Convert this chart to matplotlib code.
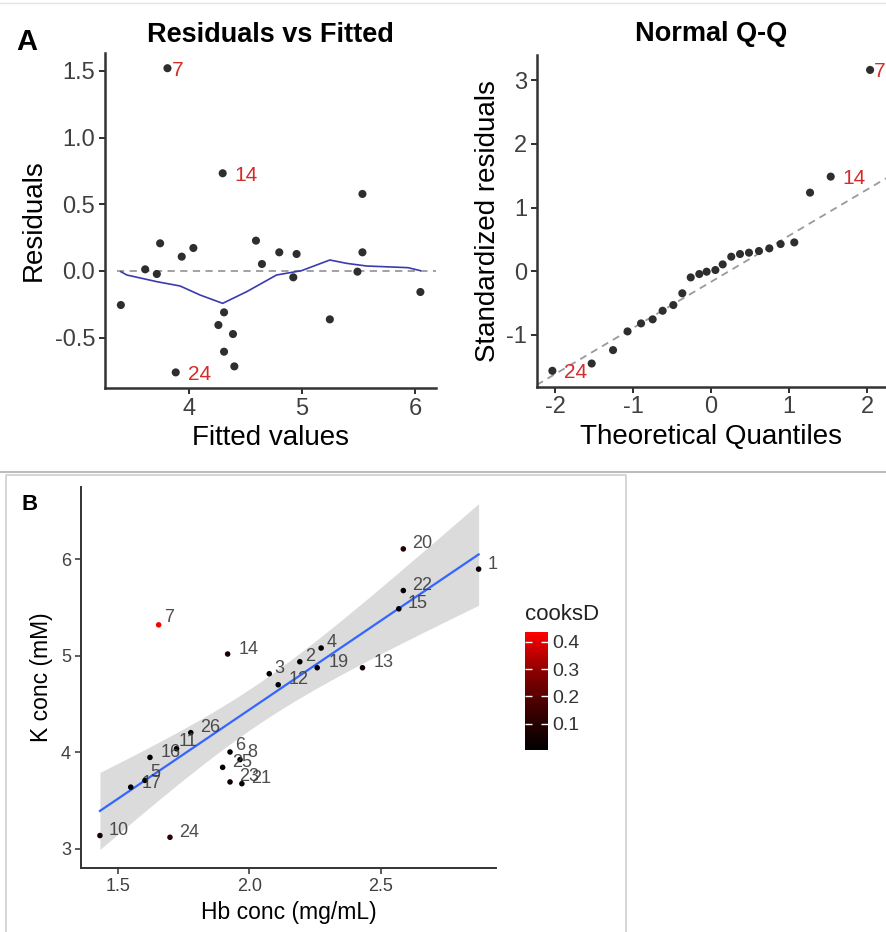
import numpy as np
import matplotlib
matplotlib.use("Agg")
import matplotlib.pyplot as plt
from matplotlib.colors import LinearSegmentedColormap, Normalize
from matplotlib.lines import Line2D
from matplotlib.colorbar import ColorbarBase

plt.rcParams["font.family"] = ["Liberation Sans", "DejaVu Sans"]
plt.rcParams["axes.unicode_minus"] = False

# ---------------------------------------------------------------- data
# panel A left: residuals vs fitted
fitted = [3.40, 3.615, 3.718, 3.747, 3.812, 3.885, 3.938, 4.041, 4.262, 4.30,
          4.312, 4.312, 4.391, 4.403, 4.594, 4.647, 4.80, 4.924, 4.953, 5.247,
          5.491, 5.535, 5.535, 6.047]
resid = [-0.255, 0.0125, -0.0225, 0.2075, 1.52, -0.76, 0.1075, 0.1725, -0.405,
         0.7325, -0.31, -0.605, -0.4725, -0.715, 0.2275, 0.0525, 0.14, -0.0475,
         0.1275, -0.3625, -0.005, 0.14, 0.5775, -0.1575]
resid_outliers = {4: "7", 5: "24", 9: "14"}

# smoother drawn through the residuals
smooth_x = [3.40, 3.453, 3.718, 3.924, 4.10, 4.30, 4.512, 4.776, 4.997, 5.247,
            5.394, 5.571, 5.938, 6.047]
smooth_y = [-0.005, -0.03, -0.08, -0.1125, -0.18, -0.2425, -0.155, -0.03,
            0.0025, 0.0825, 0.0575, 0.0375, 0.025, 0.0025]

# panel A right: normal Q-Q
theo_q = [-2.034, -1.53, -1.256, -1.07, -0.897, -0.748, -0.62, -0.483, -0.368,
          -0.26, -0.15, -0.056, 0.056, 0.15, 0.26, 0.372, 0.487, 0.615, 0.748,
          0.893, 1.068, 1.27, 1.535, 2.04]
std_resid = [-1.57, -1.455, -1.244, -0.95, -0.824, -0.76, -0.625, -0.535, -0.35,
             -0.10, -0.047, -0.01, 0.016, 0.105, 0.226, 0.268, 0.289, 0.315,
             0.357, 0.425, 0.451, 1.234, 1.486, 3.165]
qq_outliers = {0: "24", 22: "14", 23: "7"}
qq_slope = 0.726
qq_intercept = -0.17

# panel B: K vs Hb coloured by Cook's distance
ids = ["1", "2", "3", "4", "5", "6", "7", "8", "10", "11", "12", "13", "14",
       "15", "16", "17", "19", "20", "21", "22", "23", "24", "25", "26"]
hb = [2.871, 2.192, 2.076, 2.273, 1.604, 1.927, 1.656, 1.965, 1.433, 1.724,
      2.110, 2.430, 1.918, 2.568, 1.623, 1.550, 2.258, 2.585, 1.972, 2.585,
      1.927, 1.699, 1.899, 1.778]
kconc = [5.897, 4.938, 4.814, 5.080, 3.710, 4.004, 5.320, 3.925, 3.139, 4.038,
         4.700, 4.876, 5.018, 5.486, 3.948, 3.640, 4.876, 6.106, 3.676, 5.675,
         3.694, 3.121, 3.845, 4.204]
cooks = [0.03, 0.005, 0.01, 0.01, 0.02, 0.02, 0.436, 0.02, 0.06, 0.01, 0.01,
         0.05, 0.07, 0.01, 0.02, 0.02, 0.01, 0.10, 0.04, 0.02, 0.04, 0.13, 0.02,
         0.01]
cb_ticks = [0.1, 0.2, 0.3, 0.4]

# label nudges (pixels) where they differ from the default
nudge_default = (9, 5)
nudge = {"7": (5, 7), "4": (5, 6), "2": (5, 5), "3": (5, 5), "6": (5, 6),
         "8": (7, 7), "11": (2, 7), "16": (11, 5), "17": (11, 4), "5": (5, 8),
         "14": (11, 5), "19": (11, 5), "13": (11, 5), "12": (10, 5)}

T_975_DF22 = 2.074

# ---------------------------------------------------------------- figure
W, H = 886, 932
fig = plt.figure(figsize=(W / 100, H / 100), dpi=100)


def box(x0, y0, x1, y1):
    """pixel box (top-left origin) -> figure rect"""
    return [x0 / W, 1 - y1 / H, (x1 - x0) / W, (y1 - y0) / H]


def px2pt(v):
    return v * 72 / 100


def classic(ax, lw=1.8, color="#333333", tick_size=17, tick_color="#404040"):
    for s in ("top", "right"):
        ax.spines[s].set_visible(False)
    for s in ("left", "bottom"):
        ax.spines[s].set_linewidth(lw)
        ax.spines[s].set_color(color)
    ax.tick_params(direction="out", length=4, width=lw * 0.8, color=color,
                   labelsize=tick_size, labelcolor=tick_color, pad=3)


RED_TXT = "#d62b2b"

# --- A left
ax1 = fig.add_axes(box(105, 53, 436, 388))
classic(ax1)
ax1.hlines(0, 3.37, 6.2, colors="#9a9a9a", linestyles=(0, (4, 3)), lw=1.3)
ax1.plot(smooth_x, smooth_y, color="#3b3bb0", lw=1.2)
ax1.scatter(fitted, resid, s=34, color="#2e2e2e", edgecolors="none", zorder=3)
for i, lab in resid_outliers.items():
    dx = 4 if lab == "7" else 12
    ax1.annotate(lab, (fitted[i], resid[i]), xytext=(px2pt(dx), px2pt(-2)),
                 textcoords="offset points", ha="left", va="center",
                 color=RED_TXT, fontsize=15)
ax1.set_xlim(3.26, 6.185)
ax1.set_ylim(-0.877, 1.634)
ax1.set_xticks([4, 5, 6])
ax1.set_yticks([-0.5, 0.0, 0.5, 1.0, 1.5])
ax1.set_yticklabels(["-0.5", "0.0", "0.5", "1.0", "1.5"])
ax1.set_xlabel("Fitted values", fontsize=20, labelpad=4)
ax1.set_ylabel("Residuals", fontsize=20, labelpad=6)
ax1.set_title("Residuals vs Fitted", fontsize=19.5, fontweight="bold", pad=8)

# --- A right
ax2 = fig.add_axes(box(536.7, 55, 886, 386.7))
classic(ax2)
ax2.axline((0, qq_intercept), slope=qq_slope, color="#9a9a9a",
           linestyle=(0, (4, 3)), lw=1.3)
ax2.scatter(theo_q, std_resid, s=34, color="#2e2e2e", edgecolors="none",
            zorder=3, clip_on=False)
for i, lab in qq_outliers.items():
    dx = 4 if lab == "7" else 12
    ax2.annotate(lab, (theo_q[i], std_resid[i]), xytext=(px2pt(dx), px2pt(-2)),
                 textcoords="offset points", ha="left", va="center",
                 color=RED_TXT, fontsize=15, annotation_clip=False)
ax2.set_xlim(-2.235, 2.244)
ax2.set_ylim(-1.82, 3.40)
ax2.set_xticks([-2, -1, 0, 1, 2])
ax2.set_yticks([-1, 0, 1, 2, 3])
ax2.set_xlabel("Theoretical Quantiles", fontsize=20, labelpad=4)
ax2.set_ylabel("Standardized residuals", fontsize=20, labelpad=4)
ax2.set_title("Normal Q-Q", fontsize=19.5, fontweight="bold", pad=10)

fig.text(27 / W, 1 - 42 / H, "A", fontsize=21, fontweight="bold",
         ha="center", va="center")

# --- separators / frame
fig.add_artist(Line2D([0, 1], [1 - 3 / H, 1 - 3 / H], color="#e4e4e4", lw=1))
fig.add_artist(Line2D([0, 1], [1 - 472 / H, 1 - 472 / H], color="#bdbdbd", lw=1.5))
fig.add_artist(Line2D([6 / W, 6 / W, 626 / W, 626 / W],
                      [0, 1 - 475 / H, 1 - 475 / H, 0], color="#cfcfcf", lw=1.2))

# --- B
ax3 = fig.add_axes(box(80.7, 486.7, 496, 868.3))
classic(ax3, lw=1.4, color="#333333", tick_size=13)

x = np.array(hb)
y = np.array(kconc)
n = len(x)
slope, intercept = np.polyfit(x, y, 1)
res = y - (intercept + slope * x)
s = np.sqrt(np.sum(res ** 2) / (n - 2))
xg = np.linspace(x.min(), x.max(), 100)
yg = intercept + slope * xg
se = s * np.sqrt(1 / n + (xg - x.mean()) ** 2 / np.sum((x - x.mean()) ** 2))
ax3.fill_between(xg, yg - T_975_DF22 * se, yg + T_975_DF22 * se,
                 color="#999999", alpha=0.35, lw=0)
ax3.plot(xg, yg, color="#3366ff", lw=1.6)

cmap = LinearSegmentedColormap.from_list("cooks", ["#000000", "#3a0000", "#8c0000", "#ff0000"])
norm = Normalize(vmin=min(cooks), vmax=max(cooks))
ax3.scatter(hb, kconc, c=cooks, cmap=cmap, norm=norm, s=16, edgecolors="none",
            zorder=3)
for xi, yi, lab in zip(hb, kconc, ids):
    dx, dy = nudge.get(lab, nudge_default)
    ax3.annotate(lab, (xi, yi), xytext=(px2pt(dx), px2pt(dy)),
                 textcoords="offset points", ha="left", va="center",
                 color="#3a3a3a", fontsize=13, alpha=0.9, zorder=4)
ax3.set_xlim(1.36, 2.937)
ax3.set_ylim(2.80, 6.75)
ax3.set_xticks([1.5, 2.0, 2.5])
ax3.set_xticklabels(["1.5", "2.0", "2.5"])
ax3.set_yticks([3, 4, 5, 6])
ax3.set_xlabel("Hb conc (mg/mL)", fontsize=16.5, labelpad=4)
ax3.set_ylabel("K conc (mM)", fontsize=16.5, labelpad=6)

fig.text(30 / W, 1 - 505 / H, "B", fontsize=16, fontweight="bold",
         ha="center", va="center")

# colorbar
cax = fig.add_axes(box(525, 631.7, 548.3, 750))
cb = ColorbarBase(cax, cmap=cmap, norm=norm, ticks=cb_ticks)
cb.outline.set_visible(False)
cb.ax.tick_params(direction="in", length=5, width=1, color="white",
                  left=True, right=True, labelsize=14, labelcolor="#333333", pad=3)
cax.text(0, 1.06, "cooksD", transform=cax.transAxes, fontsize=16,
         ha="left", va="bottom", color="#222222")

fig.savefig("out.png", dpi=100)
